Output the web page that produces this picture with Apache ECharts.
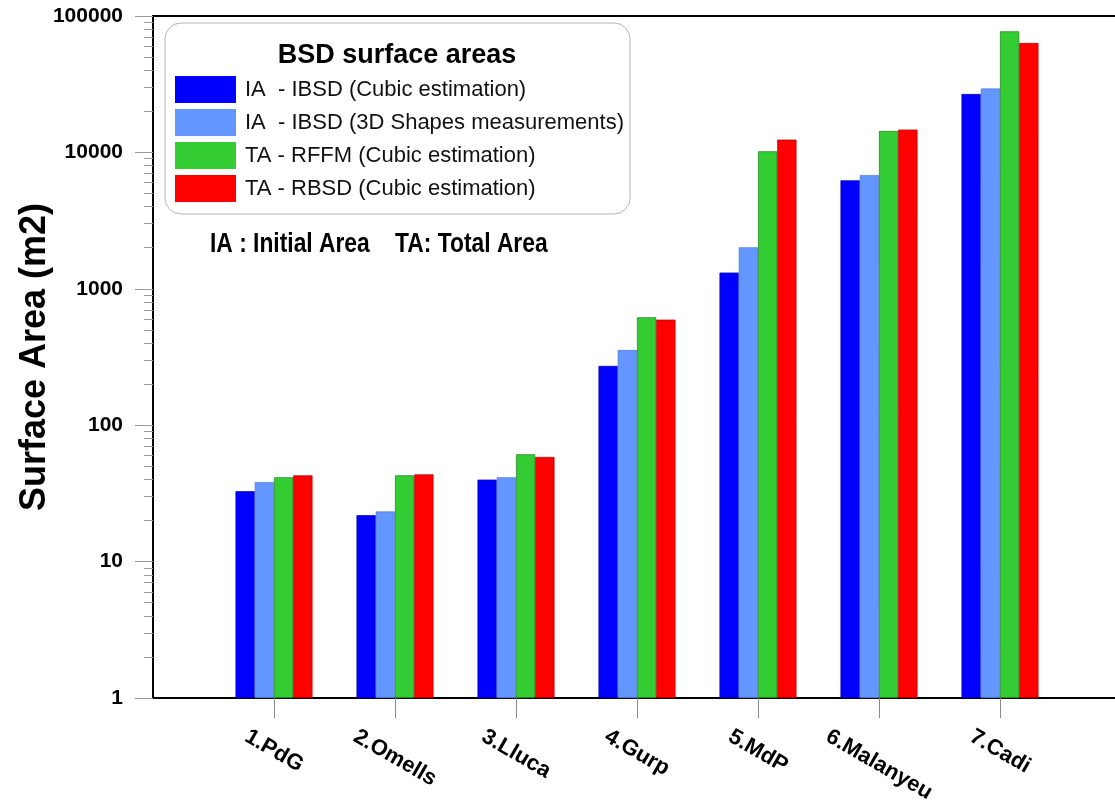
<!DOCTYPE html>
<html>
<head>
<meta charset="utf-8">
<script src="https://cdn.jsdelivr.net/npm/echarts@6/dist/echarts.min.js"></script>
<style>
  html, body { margin: 0; padding: 0; background: #fff; }
  #chart { width: 1115px; height: 810px; }
</style>
</head>
<body>
<div id="chart"></div>
<script>
// Study sites (x positions 1..7 on the axis)
const sites = ['1.PdG', '2.Omells', '3.Lluca', '4.Gurp', '5.MdP', '6.Malanyeu', '7.Cadi'];

// Surface areas in m2 for each site
const iaCubic   = [32.8, 21.9, 39.9, 272, 1315, 6245, 26800];
const iaShapes  = [38.3, 23.3, 41.5, 356, 2015, 6820, 29400];
const taRffm    = [41.5, 42.9, 61.2, 618, 10190, 14350, 77200];
const taRbsd    = [42.9, 43.6, 58.5, 594, 12410, 14700, 63400];

const seriesNames = [
  'IA  - IBSD (Cubic estimation)',
  'IA  - IBSD (3D Shapes measurements)',
  'TA - RFFM (Cubic estimation)',
  'TA - RBSD (Cubic estimation)'
];
const seriesColors = ['#0000ff', '#6496ff', '#33cc33', '#ff0000'];
const seriesBorders = ['#0000b0', '#4f78d0', '#1e7a1e', '#b00000'];

// Log axis labels and minor tick positions (2..9 within each decade)
const yLabels = [1, 10, 100, 1000, 10000, 100000];
const yMinor = [];
for (let d = 1; d < 100000; d *= 10) {
  for (let m = 2; m <= 9; m++) yMinor.push(m * d);
}
const xPositions = sites.map((_, i) => i + 1);

const font = "'Liberation Sans', Arial, sans-serif";
const xLabelSize = 22;

// Slanted site labels: keep the top of every rotated label on one line,
// centred under its tick. Longer labels are pushed down by a quarter of
// their extra width, split into local x/y padding so the shift stays vertical.
const measureCtx = document.createElement('canvas').getContext('2d');
measureCtx.font = 'bold ' + xLabelSize + 'px ' + font;
const labelWidths = sites.map(s => measureCtx.measureText(s).width);
const minWidth = Math.min.apply(null, labelWidths);
const labelRich = {};
sites.forEach((s, i) => {
  const d = 0.25 * (labelWidths[i] - minWidth);
  labelRich['s' + i] = {
    fontFamily: font, fontWeight: 'bold', fontSize: xLabelSize, color: '#000',
    padding: [1.732 * d, 0, 0, d]
  };
});

const chart = echarts.init(document.getElementById('chart'), null, { renderer: 'canvas' });

const seriesData = [iaCubic, iaShapes, taRffm, taRbsd];

chart.setOption({
  backgroundColor: '#ffffff',
  animation: false,
  textStyle: { fontFamily: font },
  title: [
    {
      text: 'BSD surface areas',
      left: 397, top: 42, padding: 0,
      textAlign: 'center',
      textStyle: { fontFamily: font, fontWeight: 'bold', fontSize: 27, color: '#000' }
    }
  ],
  graphic: [
    {
      // condensed bold note under the legend box
      type: 'text',
      x: 210, y: 231,
      scaleX: 0.845,
      style: {
        text: 'IA : Initial Area    TA: Total Area',
        fontFamily: font, fontWeight: 'bold', fontSize: 27, fill: '#000',
        verticalAlign: 'top'
      }
    }
  ],
  legend: {
    orient: 'vertical',
    left: 165, top: 23,
    padding: [53, 6, 12, 10],
    itemWidth: 61, itemHeight: 27, itemGap: 6,
    icon: 'rect',
    backgroundColor: '#ffffff',
    borderColor: '#b5b5b5', borderWidth: 1, borderRadius: 16,
    itemStyle: { borderWidth: 0 },
    textStyle: { fontFamily: font, fontSize: 22, color: '#111', padding: [0, 0, 0, 4] },
    data: seriesNames
  },
  grid: {
    left: 153, top: 16, width: 968, height: 682,
    outerBoundsMode: 'none',
    containLabel: false,
    show: true, borderColor: '#000', borderWidth: 2, backgroundColor: 'transparent'
  },
  xAxis: {
    type: 'value', min: 0, max: 8, interval: 1,
    axisLine: { show: true, lineStyle: { color: '#000', width: 2 } },
    axisTick: { show: true, customValues: xPositions, length: 20, lineStyle: { color: '#8a8a8a', width: 1 } },
    splitLine: { show: false },
    axisLabel: {
      customValues: xPositions,
      formatter: v => {
        const i = v - 1;
        return sites[i] ? '{s' + i + '|' + sites[i] + '}' : '';
      },
      rich: labelRich,
      rotate: -30, align: 'center', verticalAlign: 'middle', margin: 53,
      fontFamily: font, fontWeight: 'bold', fontSize: xLabelSize, color: '#000'
    }
  },
  yAxis: [
    {
      type: 'log', logBase: 10, min: 1, max: 100000,
      name: 'Surface Area (m2)', nameLocation: 'middle', nameRotate: 90, nameGap: 100,
      nameMoveOverlap: false,
      nameTextStyle: { fontFamily: font, fontWeight: 'bold', fontSize: 36, color: '#000' },
      axisLine: { show: true, lineStyle: { color: '#000', width: 2 } },
      axisTick: { show: true, customValues: yLabels, length: 18, lineStyle: { color: '#9a9a9a', width: 1 } },
      axisLabel: {
        customValues: yLabels,
        formatter: v => String(Math.round(v)),
        margin: 30,
        fontFamily: font, fontWeight: 'bold', fontSize: 21, color: '#000'
      },
      splitLine: { show: false }
    },
    {
      type: 'log', logBase: 10, min: 1, max: 100000, position: 'left',
      axisLine: { show: false },
      axisTick: { show: true, customValues: yMinor, length: 9, lineStyle: { color: '#9a9a9a', width: 1 } },
      axisLabel: { show: false },
      splitLine: { show: false }
    }
  ],
  series: seriesNames.map((name, k) => ({
    name,
    type: 'bar',
    yAxisIndex: 0,
    barWidth: 19.25,
    barGap: '0%',
    itemStyle: { color: seriesColors[k], borderColor: seriesBorders[k], borderWidth: 0.7 },
    data: seriesData[k].map((v, i) => [xPositions[i], v])
  }))
});
</script>
</body>
</html>
